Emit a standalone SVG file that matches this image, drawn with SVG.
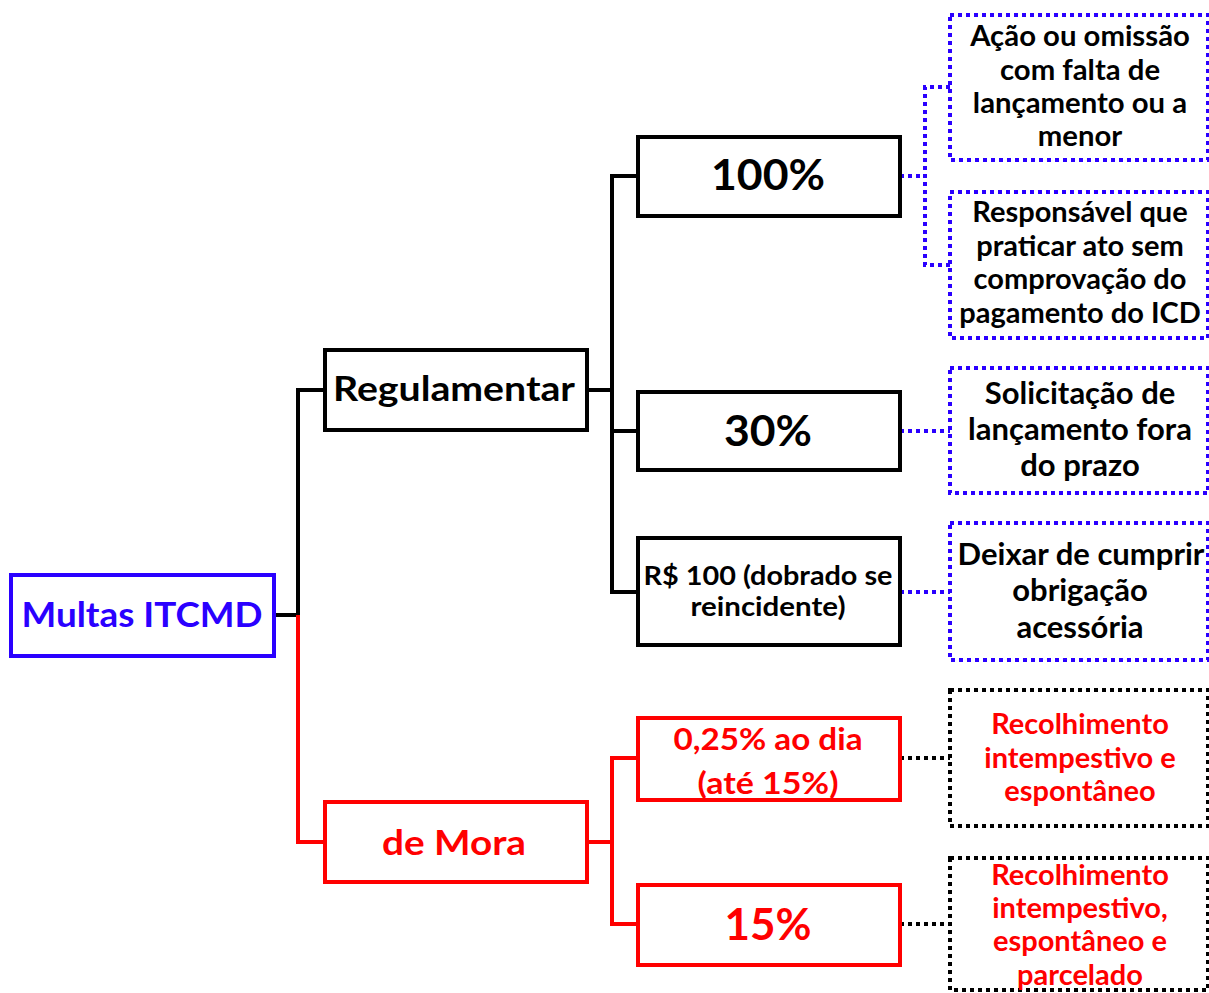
<svg xmlns="http://www.w3.org/2000/svg" width="1209" height="993" viewBox="0 0 1209 993">
<style>
text{font-family:Lato,"Liberation Sans",sans-serif;font-weight:bold;text-anchor:middle}
.k{fill:#000}.r{fill:#ff0000}.b{fill:#2a00ff}
.bx{fill:#fff;stroke-width:4}
.kb{stroke:#000}.rb{stroke:#ff0000}.bb{stroke:#2a00ff}
.dot{fill:none;stroke-width:4;stroke-dasharray:4 4}
.ln{fill:none;stroke-width:4;stroke-linejoin:miter}
</style>
<rect width="1209" height="993" fill="#fff"/>
<g id="connectors">
<path class="ln kb" d="M274 615H298V390H325"/>
<path class="ln rb" d="M298 615V842H325"/>
<path class="ln kb" d="M587 390H612M638 176H612V592H638M612 431H638"/>
<path class="ln rb" d="M587 842H612M638 758H612V924H638"/>
<path class="dot bb" d="M900 176H925M950 87H925V265H950"/>
<path class="dot bb" d="M900 431H950M900 592H950"/>
<path class="dot kb" d="M900 758H950M900 924H950"/>
</g>
<g id="n-multas"><rect class="bx bb" x="11" y="575" width="263" height="81"/><text class="b" x="142" y="627" font-size="35" textLength="241" lengthAdjust="spacingAndGlyphs">Multas ITCMD</text></g>
<g id="n-regulamentar"><rect class="bx kb" x="325" y="350" width="262" height="80"/><text class="k" x="454" y="401" font-size="34" textLength="242" lengthAdjust="spacingAndGlyphs">Regulamentar</text></g>
<g id="n-mora"><rect class="bx rb" x="325" y="802" width="262" height="80"/><text class="r" x="454" y="855" font-size="35" textLength="144" lengthAdjust="spacingAndGlyphs">de Mora</text></g>
<g id="n-100"><rect class="bx kb" x="638" y="137" width="262" height="79"/><text class="k" x="768" y="190" font-size="42" textLength="114" lengthAdjust="spacingAndGlyphs">100%</text></g>
<g id="n-30"><rect class="bx kb" x="638" y="392" width="262" height="78"/><text class="k" x="768" y="446" font-size="42" textLength="88" lengthAdjust="spacingAndGlyphs">30%</text></g>
<g id="n-r100"><rect class="bx kb" x="638" y="538" width="262" height="107"/><text class="k" x="768" y="585" font-size="26" textLength="249" lengthAdjust="spacingAndGlyphs">R$ 100 (dobrado se</text><text class="k" x="768" y="616" font-size="26" textLength="155" lengthAdjust="spacingAndGlyphs">reincidente)</text></g>
<g id="n-025"><rect class="bx rb" x="638" y="718" width="262" height="82"/><text class="r" x="768" y="750" font-size="30" textLength="189" lengthAdjust="spacingAndGlyphs">0,25% ao dia</text><text class="r" x="768" y="794" font-size="30" textLength="141" lengthAdjust="spacingAndGlyphs">(até 15%)</text></g>
<g id="n-15"><rect class="bx rb" x="638" y="885" width="262" height="80"/><text class="r" x="768" y="940" font-size="44" textLength="87" lengthAdjust="spacingAndGlyphs">15%</text></g>
<g id="n-acao"><rect class="dot bb" x="950" y="15" width="258" height="145"/>
<text class="k" font-size="29.3" x="1080"><tspan x="1080" y="46">Ação ou omissão</tspan><tspan x="1080" y="80">com falta de</tspan><tspan x="1080" y="113">lançamento ou a</tspan><tspan x="1080" y="146">menor</tspan></text></g>
<g id="n-resp"><rect class="dot bb" x="950" y="192" width="258" height="146"/>
<text class="k" font-size="29" x="1080"><tspan x="1080" y="222">Responsável que</tspan><tspan x="1080" y="256">praticar ato sem</tspan><tspan x="1080" y="289">comprovação do</tspan><tspan x="1080" y="323">pagamento do ICD</tspan></text></g>
<g id="n-solic"><rect class="dot bb" x="950" y="368" width="258" height="125"/>
<text class="k" font-size="31" x="1080"><tspan x="1080" y="404">Solicitação de</tspan><tspan x="1080" y="440">lançamento fora</tspan><tspan x="1080" y="476">do prazo</tspan></text></g>
<g id="n-deixar"><rect class="dot bb" x="950" y="523" width="258" height="137"/>
<text class="k" font-size="31" x="1080"><tspan x="1081" y="565">Deixar de cumprir</tspan><tspan x="1080" y="601">obrigação</tspan><tspan x="1080" y="638">acessória</tspan></text></g>
<g id="n-rec1"><rect class="dot kb" x="950" y="690" width="258" height="136"/>
<text class="r" font-size="29" x="1080"><tspan x="1080" y="734">Recolhimento</tspan><tspan x="1080" y="768">intempestivo e</tspan><tspan x="1080" y="801">espontâneo</tspan></text></g>
<g id="n-rec2"><rect class="dot kb" x="950" y="858" width="258" height="132"/>
<text class="r" font-size="29" x="1080"><tspan x="1080" y="885">Recolhimento</tspan><tspan x="1080" y="918">intempestivo,</tspan><tspan x="1080" y="951">espontâneo e</tspan><tspan x="1080" y="985">parcelado</tspan></text></g>
</svg>
